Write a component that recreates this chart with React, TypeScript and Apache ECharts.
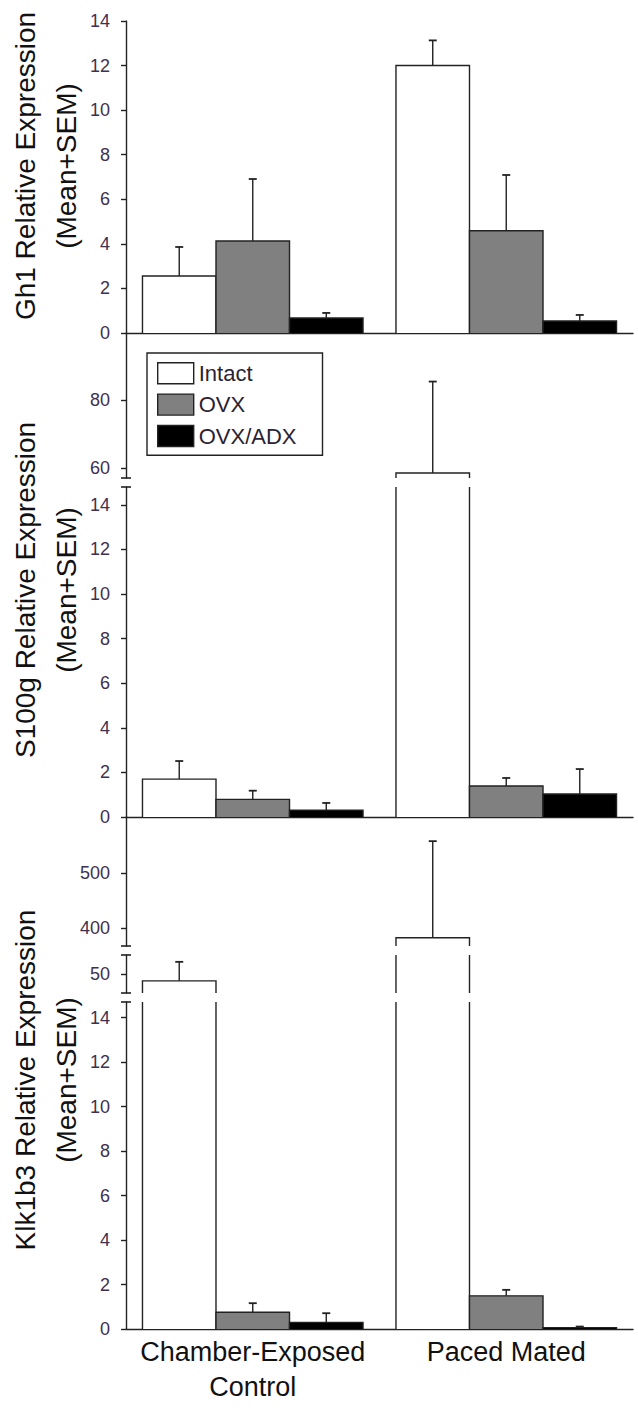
import { useEffect, useRef } from 'react';
import * as echarts from 'echarts';

// ---------- data ----------
const categories = ['Chamber-Exposed\nControl', 'Paced Mated'];
const groupNames = ['Intact', 'OVX', 'OVX/ADX'];
const groupColors = ['#ffffff', '#808080', '#000000'];

// Gh1 (mean, SEM) per category
const gh1Intact = [2.56, 12.0];
const gh1IntactSem = [1.3, 1.13];
const gh1Ovx = [4.13, 4.59];
const gh1OvxSem = [2.78, 2.5];
const gh1OvxAdx = [0.67, 0.54];
const gh1OvxAdxSem = [0.23, 0.27];

// S100g
const s100gIntact = [1.7, 58.5];
const s100gIntactSem = [0.81, 27.1];
const s100gOvx = [0.79, 1.39];
const s100gOvxSem = [0.39, 0.36];
const s100gOvxAdx = [0.31, 1.03];
const s100gOvxAdxSem = [0.32, 1.12];

// Klk1b3
const klkIntact = [48.2, 382];
const klkIntactSem = [5.0, 176];
const klkOvx = [0.75, 1.49];
const klkOvxSem = [0.41, 0.27];
const klkOvxAdx = [0.3, 0.06];
const klkOvxAdxSem = [0.41, 0.05];

// tick labels
const gh1Ticks = [0, 2, 4, 6, 8, 10, 12, 14];
const s100gUpperTicks = [60, 80];
const s100gLowerTicks = [0, 2, 4, 6, 8, 10, 12, 14];
const klkUpperTicks = [400, 500];
const klkMiddleTicks = [50];
const klkLowerTicks = [0, 2, 4, 6, 8, 10, 12, 14];

const panelTitles = ['Gh1 Relative Expression', 'S100g Relative Expression', 'Klk1b3 Relative Expression'];
const subTitle = '(Mean+SEM)';

// ---------- layout ----------
const FONT = '"Liberation Sans", Arial, sans-serif';
const AXIS_X = 126;
const GRID_RIGHT = 5;
const TICK_COLOR = '#40304f';
const LINE_COLOR = '#222222';

const panels = [
  { means: [gh1Intact, gh1Ovx, gh1OvxAdx], sems: [gh1IntactSem, gh1OvxSem, gh1OvxAdxSem], titleY: 166 },
  { means: [s100gIntact, s100gOvx, s100gOvxAdx], sems: [s100gIntactSem, s100gOvxSem, s100gOvxAdxSem], titleY: 590 },
  { means: [klkIntact, klkOvx, klkOvxAdx], sems: [klkIntactSem, klkOvxSem, klkOvxAdxSem], titleY: 1080 },
];

const segments = [
  { panel: 0, top: 21, height: 312, min: 0, max: 14, ticks: gh1Ticks, baseline: true, labels: false, breakTop: false, breakBottom: false },
  { panel: 1, top: 333, height: 145, min: 57, max: 100, ticks: s100gUpperTicks, baseline: false, labels: false, breakTop: false, breakBottom: true },
  { panel: 1, top: 487, height: 330, min: 0, max: 14.8, ticks: s100gLowerTicks, baseline: true, labels: false, breakTop: true, breakBottom: false },
  { panel: 2, top: 817, height: 129, min: 367, max: 602, ticks: klkUpperTicks, baseline: false, labels: false, breakTop: false, breakBottom: true },
  { panel: 2, top: 955, height: 38, min: 45, max: 55, ticks: klkMiddleTicks, baseline: false, labels: false, breakTop: true, breakBottom: true },
  { panel: 2, top: 1002, height: 327, min: 0, max: 14.7, ticks: klkLowerTicks, baseline: true, labels: true, breakTop: true, breakBottom: false },
];

function makeRenderItem(k: number, min: number, max: number) {
  return (params: any, api: any) => {
    const c = api.value(0);
    const v = api.value(1);
    const e = api.value(2);
    const lo = Math.max(min, 0);
    if (v <= lo) return null;
    const band = api.size([1, 0])[0];
    const bw = band * 0.29;
    const base = api.coord([c, lo]);
    const cx = base[0] + (k - 1) * bw;
    const x0 = cx - bw / 2;
    const x1 = cx + bw / 2;
    const yb = base[1];
    const clipped = v > max;
    const yt = api.coord([c, Math.min(v, max)])[1];
    const lineStyle = { stroke: LINE_COLOR, lineWidth: 1.4, fill: null };
    const children: any[] = [
      { type: 'rect', shape: { x: x0, y: yt, width: bw, height: yb - yt }, style: { fill: groupColors[k], stroke: null } },
    ];
    if (clipped) {
      children.push({ type: 'line', shape: { x1: x0, y1: yb, x2: x0, y2: yt }, style: lineStyle });
      children.push({ type: 'line', shape: { x1: x1, y1: yb, x2: x1, y2: yt }, style: lineStyle });
    } else {
      children.push({ type: 'polyline', shape: { points: [[x0, yb], [x0, yt], [x1, yt], [x1, yb]] }, style: lineStyle });
      const top = v + e;
      const ye = api.coord([c, Math.min(top, max)])[1];
      children.push({ type: 'line', shape: { x1: cx, y1: yt, x2: cx, y2: ye }, style: lineStyle });
      if (top <= max) {
        children.push({ type: 'line', shape: { x1: cx - 4, y1: ye, x2: cx + 4, y2: ye }, style: { ...lineStyle, lineWidth: 1.8 } });
      }
    }
    return { type: 'group', children };
  };
}

export default function App() {
  const ref = useRef<HTMLDivElement>(null);

  useEffect(() => {
    document.body.style.margin = '0';
    if (!ref.current) return;
    const chart = echarts.init(ref.current, null, { renderer: 'svg' });

    const grid = segments.map((s) => ({
      left: AXIS_X,
      right: GRID_RIGHT,
      top: s.top,
      height: s.height,
      containLabel: false,
      outerBoundsMode: 'none',
    }));

    const xAxis = segments.map((s, i) => ({
      type: 'category',
      gridIndex: i,
      data: categories,
      show: s.baseline,
      axisLine: { show: s.baseline, lineStyle: { color: LINE_COLOR, width: 1.4 } },
      axisTick: { show: false },
      axisLabel: {
        show: s.labels,
        fontSize: 27,
        lineHeight: 35,
        color: '#111111',
        fontFamily: FONT,
        margin: 5,
        interval: 0,
      },
      splitLine: { show: false },
    }));

    const yAxis = segments.map((s, i) => ({
      type: 'value',
      gridIndex: i,
      min: s.min,
      max: s.max,
      axisLine: { show: true, lineStyle: { color: LINE_COLOR, width: 1.4 } },
      axisTick: { show: true, length: 5, customValues: s.ticks, lineStyle: { color: LINE_COLOR, width: 1.4 } },
      axisLabel: { customValues: s.ticks, fontSize: 18, color: TICK_COLOR, fontFamily: FONT, margin: 16 },
      splitLine: { show: false },
    }));

    const series: any[] = [];
    segments.forEach((s, i) => {
      const p = panels[s.panel];
      groupNames.forEach((name, k) => {
        series.push({
          type: 'custom',
          name,
          xAxisIndex: i,
          yAxisIndex: i,
          clip: false,
          itemStyle: { color: groupColors[k] },
          data: categories.map((_, c) => [c, p.means[k][c], p.sems[k][c]]),
          renderItem: makeRenderItem(k, s.min, s.max),
        });
      });
    });

    const graphic: any[] = [];
    panels.forEach((p, pi) => {
      graphic.push({
        type: 'text',
        x: 25,
        y: p.titleY,
        rotation: Math.PI / 2,
        style: { text: panelTitles[pi], fontSize: 28, fontFamily: FONT, fill: '#111111', align: 'center', verticalAlign: 'middle' },
      });
      graphic.push({
        type: 'text',
        x: 66,
        y: p.titleY,
        rotation: Math.PI / 2,
        style: { text: subTitle, fontSize: 28, fontFamily: FONT, fill: '#111111', align: 'center', verticalAlign: 'middle' },
      });
    });
    segments.forEach((s) => {
      if (s.breakTop) {
        graphic.push({ type: 'line', shape: { x1: AXIS_X - 5, y1: s.top, x2: AXIS_X + 5, y2: s.top }, style: { stroke: LINE_COLOR, lineWidth: 1.6 } });
      }
      if (s.breakBottom) {
        const y = s.top + s.height;
        graphic.push({ type: 'line', shape: { x1: AXIS_X - 5, y1: y, x2: AXIS_X + 5, y2: y }, style: { stroke: LINE_COLOR, lineWidth: 1.6 } });
      }
    });

    chart.setOption({
      animation: false,
      backgroundColor: '#ffffff',
      grid,
      xAxis,
      yAxis,
      series,
      graphic,
      legend: {
        show: true,
        orient: 'vertical',
        left: 147,
        top: 353,
        selectedMode: false,
        data: groupNames.map((n, k) => ({
          name: n,
          icon: 'rect',
          itemStyle: { color: groupColors[k], borderColor: LINE_COLOR, borderWidth: 1.4 },
        })),
        itemWidth: 36,
        itemHeight: 21,
        itemGap: 9,
        padding: [9, 26, 8, 10],
        borderColor: LINE_COLOR,
        borderWidth: 1.4,
        backgroundColor: '#ffffff',
        textStyle: { fontSize: 22, color: '#2b2233', fontFamily: FONT },
      },
    });

    return () => chart.dispose();
  }, []);

  return <div ref={ref} style={{ width: 638, height: 1410 }} />;
}
